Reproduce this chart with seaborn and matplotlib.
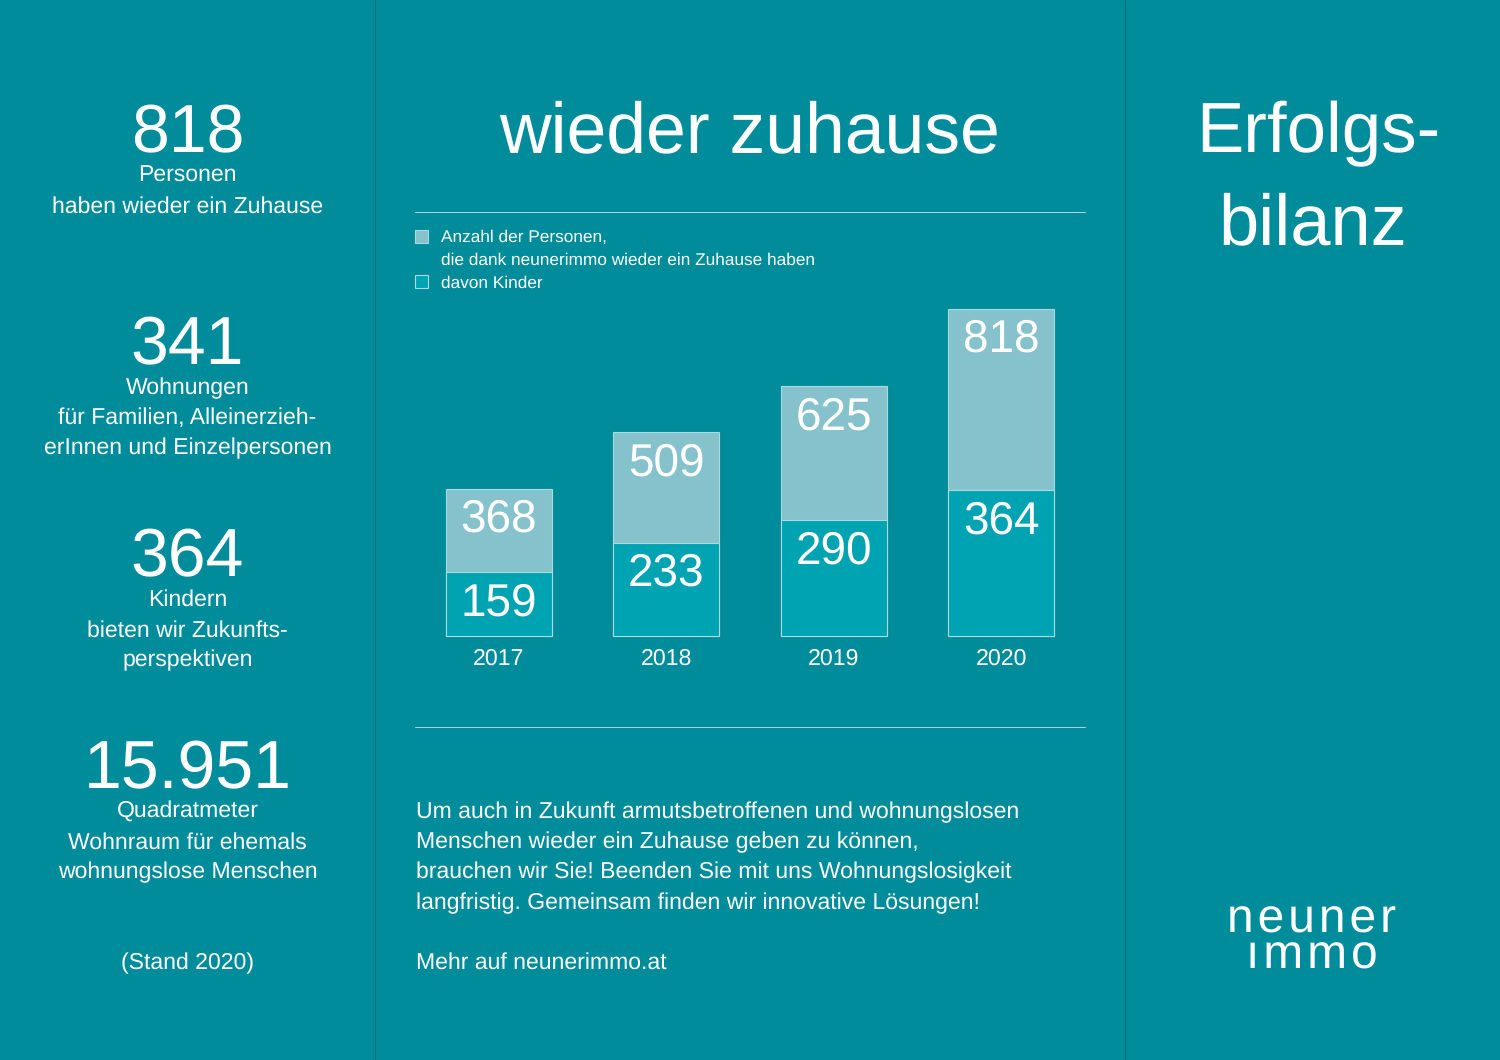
import matplotlib.pyplot as plt
from matplotlib.lines import Line2D
from matplotlib.patches import Rectangle
import seaborn as sns

years = ["2017", "2018", "2019", "2020"]
persons = [368, 509, 625, 818]
children = [159, 233, 290, 364]

side_numbers = ["818", "341", "364", "15.951"]
side_texts = [
    ["Personen", "haben wieder ein Zuhause"],
    ["Wohnungen", "für Familien, Alleinerzieh-", "erInnen und Einzelpersonen"],
    ["Kindern", "bieten wir Zukunfts-", "perspektiven"],
    ["Quadratmeter", "Wohnraum für ehemals", "wohnungslose Menschen"],
]
body_lines = [
    "Um auch in Zukunft armutsbetroffenen und wohnungslosen",
    "Menschen wieder ein Zuhause geben zu können,",
    "brauchen wir Sie! Beenden Sie mit uns Wohnungslosigkeit",
    "langfristig. Gemeinsam finden wir innovative Lösungen!",
]

BG = "#008c9b"
PERSON_COL = "#85c2cc"
CHILD_COL = "#00a3b1"
EDGE = "#a8dadf"
W, H = 1500, 1060

sns.set_theme(style="white")
plt.rcParams['font.family'] = ['Liberation Sans', 'DejaVu Sans']
plt.rcParams['text.hinting'] = 'no_hinting'

fig = plt.figure(figsize=(15, 10.6), dpi=100, facecolor=BG)


def label(x, y, s, size, ha="center", **kw):
    # x, y in pixels from the top left corner
    fig.text(x / W, 1 - y / H, s, fontsize=size, color="white", ha=ha, va="baseline", **kw)


def px_line(x0, y0, x1, y1, color, lw=0.75):
    fig.add_artist(Line2D([x0 / W, x1 / W], [1 - y0 / H, 1 - y1 / H], color=color, lw=lw))


# bars
ax = fig.add_axes([415 / W, 1 - 636 / H, 670 / W, 336 / H])
ax.set_facecolor("none")
sns.barplot(x=years, y=persons, color=PERSON_COL, saturation=1, width=0.635,
            edgecolor=EDGE, linewidth=0.8, ax=ax)
sns.barplot(x=years, y=children, color=CHILD_COL, saturation=1, width=0.635,
            edgecolor=EDGE, linewidth=0.8, ax=ax)
ax.set_xlim(-0.5, 3.5)
ax.set_ylim(0, 840)
ax.set_yticks([])
ax.tick_params(axis="x", length=0, pad=9, labelsize=16.7, labelcolor="white")
sns.despine(ax=ax, left=True, bottom=True)
for patch in ax.patches:
    patch.set_clip_on(False)

for i, (p, c) in enumerate(zip(persons, children)):
    for v in (p, c):
        ax.annotate(str(v), (i, v), xytext=(0, -31), textcoords="offset points",
                    ha="center", va="baseline", fontsize=33, color="white")

# panel dividers and rules
px_line(375, 0, 375, H, "#006f7b")
px_line(1125, 0, 1125, H, "#006f7b")
px_line(415, 212, 1085, 212, "#a5d3d9")
px_line(415, 727, 1085, 727, "#a5d3d9")

# left column
for k, (num, lines) in enumerate(zip(side_numbers, side_texts)):
    base = 152 + k * 212
    label(187.5, base, num, 49)
    for j, line in enumerate(lines):
        label(187.5, base + 30 + j * 30.3, line, 16.6)
label(187.5, 969, "(Stand 2020)", 16.6)

# middle column
label(750, 152, "wieder zuhause", 51.5)
fig.add_artist(Rectangle((415 / W, 1 - 243 / H), 13 / W, 13 / H, transform=fig.transFigure,
                         facecolor=PERSON_COL, edgecolor=EDGE, lw=0.8))
fig.add_artist(Rectangle((415 / W, 1 - 288 / H), 13 / W, 13 / H, transform=fig.transFigure,
                         facecolor=CHILD_COL, edgecolor=EDGE, lw=0.8))
label(441, 242, "Anzahl der Personen,", 12.4, ha="left")
label(441, 265, "die dank neunerimmo wieder ein Zuhause haben", 12.4, ha="left")
label(441, 288, "davon Kinder", 12.4, ha="left")
for j, line in enumerate(body_lines):
    label(415.5, 818 + j * 30.3, line, 16.6, ha="left")
label(415.5, 969, "Mehr auf neunerimmo.at", 16.6, ha="left")

# right column
label(1318, 152, "Erfolgs-", 51)
label(1313, 244, "bilanz", 52)
label(1312, 969, "n\u200ae\u200au\u200an\u200ae\u200ar\n\u0131\u200am\u200am\u200ao", 34.5, linespacing=0.76)

fig.savefig("out.png", dpi=100, facecolor=BG)
